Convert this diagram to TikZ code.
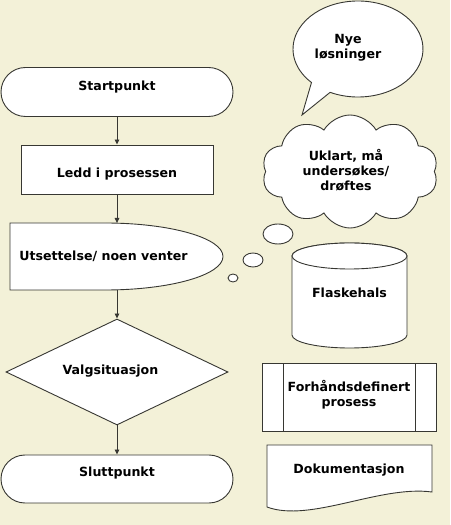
\documentclass[tikz,border=0pt]{standalone}
\usepackage{fontspec}
\setmainfont{DejaVu Sans}
\usetikzlibrary{shapes.misc,shapes.geometric,shapes.symbols,arrows.meta,calc}
\definecolor{bgc}{RGB}{243,241,216}
\definecolor{linec}{RGB}{55,55,50}
\begin{document}
\begin{tikzpicture}[x=1pt,y=1pt,
  shp/.style={draw=linec,fill=white,line width=0.9pt},
  txt/.style={font=\fontsize{12.6}{15}\selectfont\bfseries,align=center,inner sep=0pt},
  arr/.style={draw=linec,line width=0.9pt,-{Triangle[length=5pt,width=4.5pt]}}]
\fill[bgc] (0,0) rectangle (450,525);
\useasboundingbox (0,0) rectangle (450,525);
% left column
\node[shp,rounded rectangle,minimum width=232pt,minimum height=49pt,inner sep=0pt] (start) at (117,433) {};
\node[txt] (starttxt) at (117,438) {Startpunkt};
\node[shp,rectangle,minimum width=192pt,minimum height=49pt,inner sep=0pt] (ledd) at (117,355.5) {};
\node[txt] (leddtxt) at (117,351) {Ledd i prosessen};
\draw[shp] (10,302) -- (105,302) arc[start angle=90,end angle=-90,x radius=118,y radius=33.5] -- (10,235) -- cycle;
\coordinate (dtop) at (117,302);
\coordinate (dbot) at (117,235);
\node[txt] (delaytxt) at (103.5,269) {Utsettelse/ noen venter};
\node[shp,diamond,aspect=2.094,minimum width=222pt,minimum height=106pt,inner sep=0pt] (valg) at (117,153) {};
\node[txt] (valgtxt) at (110.5,154) {Valgsituasjon};
\node[shp,rounded rectangle,minimum width=232pt,minimum height=48pt,inner sep=0pt] (slutt) at (117,46) {};
\node[txt] (slutttxt) at (117,52) {Sluttpunkt};
\draw[arr] (start.south) -- (ledd.north);
\draw[arr] (ledd.south) -- (dtop);
\draw[arr] (dbot) -- (valg.north);
\draw[arr] (valg.south) -- (slutt.north);
% speech bubble
\coordinate (bc) at (358,476);
\coordinate (tip) at (302,410);
\draw[shp] ($(bc)+(224.3:65 and 48)$) -- (tip) -- ($(bc)+(244.6:65 and 48)$) arc[start angle=244.6,end angle=584.3,x radius=65,y radius=48] -- cycle;
\node[txt] (nye) at (348,477.5) {Nye\\løsninger};
% cloud
\node[shp,cloud,cloud puffs=10,cloud puff arc=120,aspect=1.55,minimum width=176pt,minimum height=113pt,inner sep=0pt] (cloud) at (350,353.5) {};
\node[txt] (cloudtxt) at (346,355) {Uklart, må\\undersøkes/\\drøftes};
% thought circles
\draw[shp] (278,291) ellipse[x radius=15,y radius=10];
\draw[shp] (253,265) ellipse[x radius=10,y radius=7];
\draw[shp] (233,247) ellipse[x radius=5,y radius=4];
% cylinder
\draw[shp] (292,269) -- (292,190) arc[start angle=180,end angle=360,x radius=57.5,y radius=13] -- (407,269) arc[start angle=0,end angle=180,x radius=57.5,y radius=13] -- cycle;
\draw[shp] (349.5,269) ellipse[x radius=57.5,y radius=13];
\node[txt] (flask) at (349.5,232) {Flaskehals};
% predefined process
\draw[shp] (262,94) rectangle (436,162);
\draw[linec,line width=0.9pt] (283,94) -- (283,162) (415,94) -- (415,162);
\node[txt] (forh) at (349,130) {Forhåndsdefinert\\prosess};
% document
\draw[shp] (267,80) -- (267,18) .. controls (310,2) and (380,40) .. (432,33) -- (432,80) -- cycle;
\node[txt] (dok) at (349,55) {Dokumentasjon};
\end{tikzpicture}
\end{document}
